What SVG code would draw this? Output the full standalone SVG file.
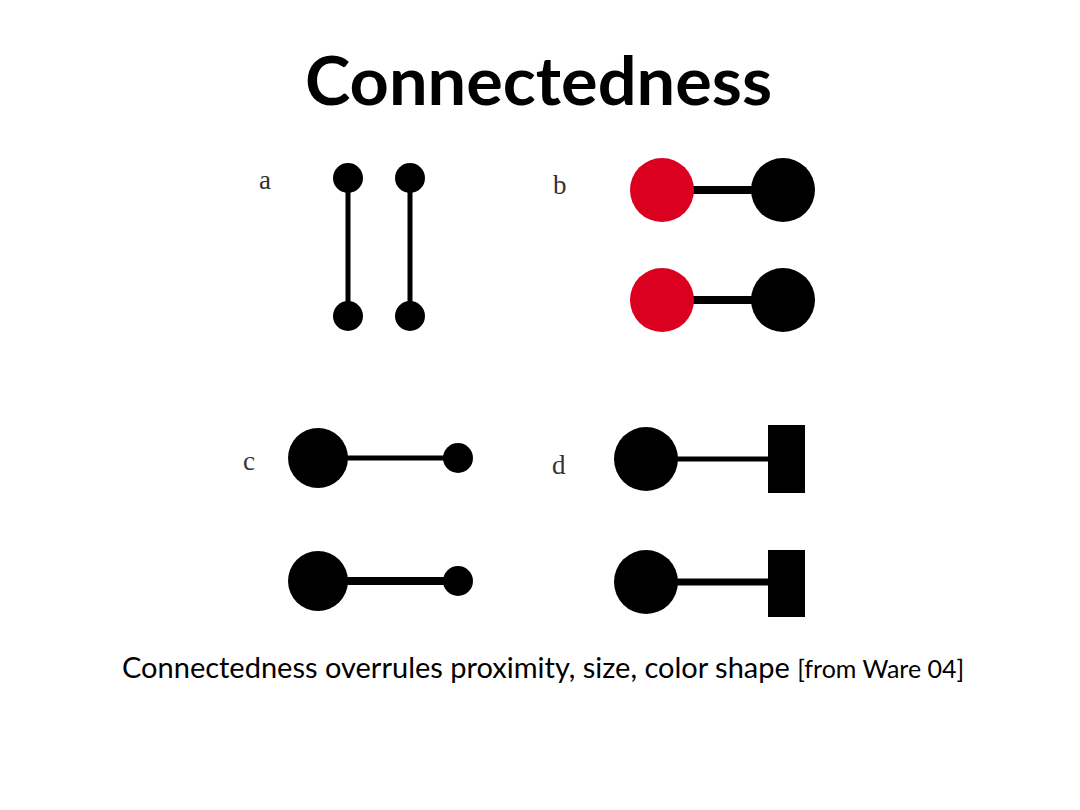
<svg xmlns="http://www.w3.org/2000/svg" width="1080" height="810" viewBox="0 0 1080 810">
  <style>
    .title { font-family: Lato, "Liberation Sans", sans-serif; font-weight: bold; font-size: 66px; fill: #000; }
    .caption { font-family: Lato, "Liberation Sans", sans-serif; font-size: 29px; fill: #000; }
    .small { font-size: 25px; }
    .label { font-family: "Liberation Serif", serif; font-size: 27px; fill: #333; }
    .dot { fill: #000; }
    .red { fill: #dc0020; }
    .link { stroke: #000; fill: none; }
  </style>
  <rect width="1080" height="810" fill="#fff"/>

  <text class="title" x="305" y="105" textLength="467" lengthAdjust="spacingAndGlyphs">Connectedness</text>

  <!-- connectors -->
  <g id="connectors">
    <line class="link" x1="348" y1="178" x2="348" y2="316" stroke-width="5"/>
    <line class="link" x1="410" y1="178" x2="410" y2="316" stroke-width="5"/>
    <line class="link" x1="662" y1="190" x2="783" y2="190" stroke-width="8"/>
    <line class="link" x1="662" y1="300" x2="783" y2="300" stroke-width="8"/>
    <line class="link" x1="318" y1="458" x2="458" y2="458" stroke-width="5"/>
    <line class="link" x1="318" y1="581" x2="458" y2="581" stroke-width="8"/>
    <line class="link" x1="646" y1="459" x2="770" y2="459" stroke-width="5"/>
    <line class="link" x1="646" y1="582" x2="770" y2="582" stroke-width="7"/>
  </g>

  <!-- a: proximity -->
  <g id="panel-a">
    <text class="label" x="259" y="189">a</text>
    <circle class="dot" cx="348" cy="178" r="15"/>
    <circle class="dot" cx="410" cy="178" r="15"/>
    <circle class="dot" cx="348" cy="316" r="15"/>
    <circle class="dot" cx="410" cy="316" r="15"/>
  </g>

  <!-- b: colour -->
  <g id="panel-b">
    <text class="label" x="553" y="194">b</text>
    <circle class="red" cx="662" cy="190" r="32"/>
    <circle class="dot" cx="783" cy="190" r="32"/>
    <circle class="red" cx="662" cy="300" r="32"/>
    <circle class="dot" cx="783" cy="300" r="32"/>
  </g>

  <!-- c: size -->
  <g id="panel-c">
    <text class="label" x="243" y="470">c</text>
    <circle class="dot" cx="318" cy="458" r="30"/>
    <circle class="dot" cx="458" cy="458" r="15"/>
    <circle class="dot" cx="318" cy="581" r="30"/>
    <circle class="dot" cx="458" cy="581" r="15"/>
  </g>

  <!-- d: shape -->
  <g id="panel-d">
    <text class="label" x="552" y="474">d</text>
    <circle class="dot" cx="646" cy="459" r="32"/>
    <rect class="dot" x="768" y="425" width="37" height="68"/>
    <circle class="dot" cx="646" cy="582" r="32"/>
    <rect class="dot" x="768" y="550" width="37" height="67"/>
  </g>

  <text class="caption" x="122" y="678">Connectedness overrules proximity, size, color shape <tspan class="small">[from Ware 04]</tspan></text>
</svg>
